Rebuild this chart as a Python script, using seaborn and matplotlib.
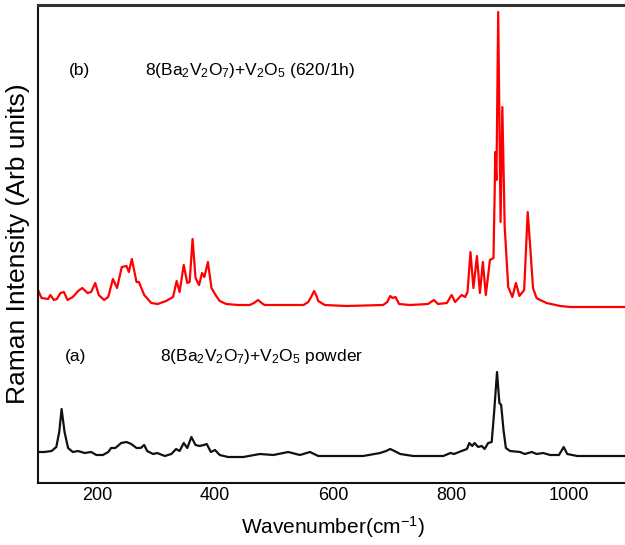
import matplotlib
matplotlib.use("Agg")
import matplotlib.pyplot as plt
import seaborn as sns
import pandas as pd

# Red spectrum (b): 8(Ba2V2O7)+V2O5 (620/1h)
wn_b = [100, 106, 117, 121, 127, 132, 138, 144, 150, 159, 168, 175, 184, 190, 197, 203,
        212, 219, 227, 234, 242, 250, 254, 259, 267, 271, 280, 292, 303, 317, 329, 335,
        340, 347, 353, 357, 362, 367, 373, 378, 382, 388, 394, 402, 408, 419, 439, 459,
        466, 473, 479, 484, 510, 550, 558, 563, 568, 572, 575, 586, 623, 685, 692, 697,
        701, 706, 712, 730, 761, 766, 771, 778, 793, 801, 807, 818, 824, 828, 833, 838,
        844, 849, 854, 859, 866, 872, 874, 875, 877, 880, 884, 887, 891, 897, 904, 910,
        916, 924, 930, 935, 939, 945, 951, 962, 985, 1002, 1050, 1100]
int_b = [193, 185, 184, 188, 183, 184, 190, 191, 183, 186, 192, 195, 190, 191, 200, 188,
         183, 186, 204, 195, 216, 217, 211, 224, 201, 201, 188, 180, 179, 182, 186, 202,
         191, 218, 200, 201, 244, 205, 198, 210, 206, 221, 195, 187, 182, 179, 178, 178,
         180, 183, 180, 178, 178, 178, 181, 186, 192, 187, 182, 178, 177, 178, 181, 187,
         185, 186, 179, 178, 179, 181, 183, 179, 180, 188, 181, 188, 186, 191, 231, 195,
         227, 190, 221, 188, 223, 225, 290, 331, 303, 471, 261, 376, 256, 196, 186, 200,
         187, 193, 271, 230, 195, 185, 183, 180, 177, 176, 176, 176]

# Black spectrum (a): 8(Ba2V2O7)+V2O5 powder
wn_a = [100, 111, 123, 131, 136, 140, 145, 151, 159, 168, 179, 190, 199, 210, 219, 224,
        231, 241, 250, 258, 267, 274, 280, 285, 295, 302, 315, 326, 334, 340, 347, 353,
        360, 367, 374, 381, 386, 393, 400, 408, 422, 439, 448, 476, 499, 524, 544, 561,
        575, 651, 680, 690, 697, 704, 714, 736, 787, 799, 805, 818, 827, 831, 836, 840,
        846, 852, 857, 863, 869, 873, 878, 882, 885, 889, 893, 900, 917, 925, 937, 945,
        956, 968, 983, 991, 997, 1014, 1100]
int_a = [31, 31, 32, 36, 51, 74, 51, 35, 31, 32, 30, 31, 28, 28, 31, 35,
         35, 40, 41, 39, 35, 35, 38, 32, 29, 30, 27, 29, 34, 32, 40, 35,
         46, 38, 37, 38, 39, 31, 33, 28, 26, 26, 26, 29, 28, 31, 28, 31,
         27, 27, 30, 32, 34, 32, 29, 27, 27, 30, 29, 32, 34, 40, 37, 40,
         36, 37, 34, 40, 41, 70, 111, 80, 78, 53, 35, 32, 31, 29, 31, 29,
         30, 28, 28, 36, 29, 27, 27]

x_ticks = [200, 400, 600, 800, 1000]
label_b = ["(b)", r"8(Ba$_2$V$_2$O$_7$)+V$_2$O$_5$ (620/1h)"]
label_a = ["(a)", r"8(Ba$_2$V$_2$O$_7$)+V$_2$O$_5$ powder"]

sns.set_style("white")
plt.rcParams["font.family"] = ["Liberation Sans", "DejaVu Sans"]
plt.rcParams["mathtext.fontset"] = "custom"
plt.rcParams["mathtext.rm"] = "Liberation Sans"
plt.rcParams["mathtext.it"] = "Liberation Sans"
plt.rcParams["mathtext.default"] = "regular"
plt.rcParams["text.color"] = "black"
plt.rcParams["axes.labelcolor"] = "black"
plt.rcParams["xtick.color"] = "black"

fig = plt.figure(figsize=(6.25, 5.45), dpi=100)
ax = fig.add_axes([38 / 625, 1 - 483 / 545, 590 / 625, 478 / 545])

df_b = pd.DataFrame({"x": wn_b, "y": int_b})
df_a = pd.DataFrame({"x": wn_a, "y": int_a})
sns.lineplot(data=df_b, x="x", y="y", ax=ax, color="#ff0000", linewidth=1.6,
             estimator=None, sort=False)
sns.lineplot(data=df_a, x="x", y="y", ax=ax, color="#111111", linewidth=1.6,
             estimator=None, sort=False)

ax.set_xlim(100, 1100)
ax.set_ylim(0, 478)
ax.set_xticks(x_ticks)
ax.set_xticklabels([str(t) for t in x_ticks], fontsize=13)
ax.set_yticks([])
ax.tick_params(axis="x", length=0, pad=3)

ax.set_xlabel("Wavenumber(cm$^{-1}$)", fontsize=15, labelpad=7)
ax.set_ylabel("Raman Intensity (Arb units)", fontsize=19, labelpad=6)

for side in ["left", "bottom", "top"]:
    ax.spines[side].set_visible(True)
    ax.spines[side].set_color("#111111")
    ax.spines[side].set_linewidth(1.5)
ax.spines["top"].set_color("#333333")
ax.spines["top"].set_linewidth(2.2)
ax.spines["right"].set_visible(False)

ax.text(171, 413, label_b[0], fontsize=12.5, ha="center", va="center")
ax.text(282, 413, label_b[1], fontsize=12.5, ha="left", va="center")
ax.text(163, 126, label_a[0], fontsize=12.5, ha="center", va="center")
ax.text(306, 126, label_a[1], fontsize=12.5, ha="left", va="center")

fig.savefig("out.png", dpi=100)
